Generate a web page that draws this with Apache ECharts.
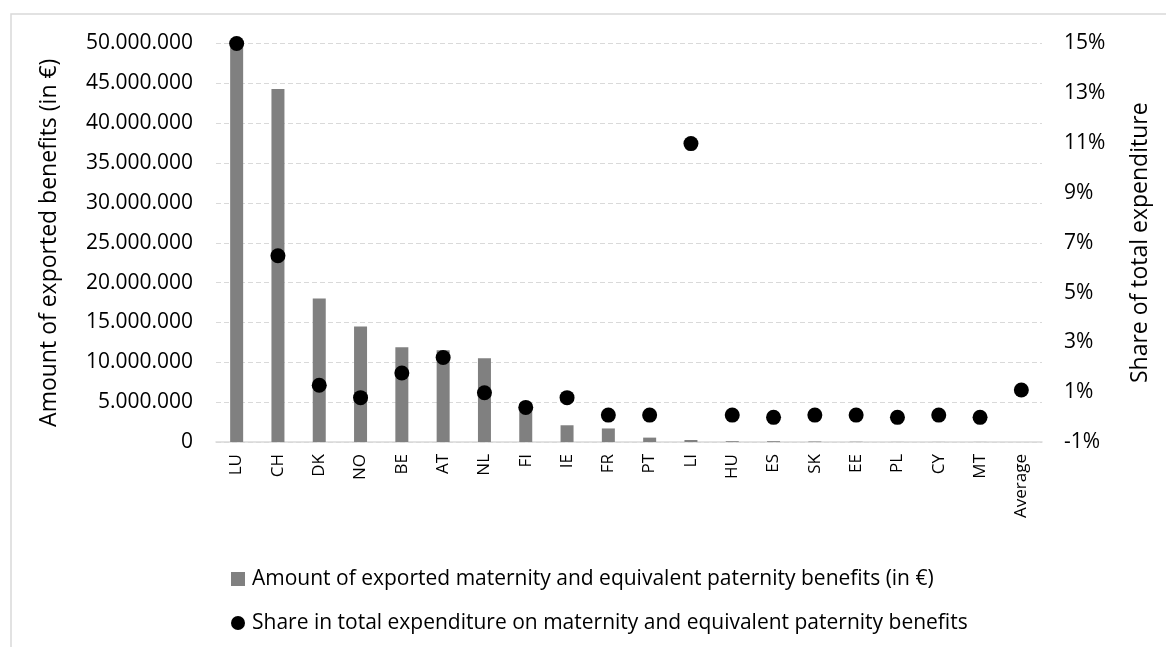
<!DOCTYPE html>
<html>
<head>
<meta charset="utf-8">
<script src="https://cdn.jsdelivr.net/npm/echarts@6/dist/echarts.min.js"></script>
<style>
html,body{margin:0;padding:0;background:#fff;}
#main{width:1166px;height:647px;}
</style>
</head>
<body>
<div id="main"></div>
<script>
const categories = ['LU','CH','DK','NO','BE','AT','NL','FI','IE','FR','PT','LI','HU','ES','SK','EE','PL','CY','MT','Average'];
const amountExported = [50000000,44300000,18000000,14500000,11900000,11500000,10500000,4400000,2100000,1700000,550000,250000,100000,100000,60000,30000,10000,10000,10000,null];
const shareTotal = [15.0,6.48,1.28,0.78,1.77,2.39,0.98,0.39,0.78,0.08,0.08,10.98,0.08,-0.01,0.08,0.08,-0.01,0.08,-0.01,1.09];
const leftTicks = {min:0, max:50000000, interval:5000000};
const rightTicks = {min:-1, max:15, interval:2};
const seriesNames = ['Amount of exported maternity and equivalent paternity benefits (in €)','Share in total expenditure on maternity and equivalent paternity benefits'];

const FONT = 'Open Sans';
const chart = echarts.init(document.getElementById('main'));
function dotFmt(v){return String(v).replace(/\B(?=(\d{3})+(?!\d))/g,'.');}
chart.setOption({
  animation:false,
  backgroundColor:'#fff',
  textStyle:{fontFamily:FONT,color:'#000'},
  graphic:[{type:'rect',shape:{x:11,y:14,width:1200,height:700},style:{fill:'none',stroke:'#d9d9d9',lineWidth:1.5},silent:true}],
  grid:{left:216,right:124,top:43.5,bottom:205,containLabel:false},
  legend:{
    orient:'vertical',left:231,top:568,padding:0,itemGap:22,itemWidth:14,itemHeight:14,
    textStyle:{fontFamily:FONT,fontSize:21,lineHeight:22,color:'#000',padding:[0,0,0,2]},
    data:[{name:seriesNames[0],icon:'rect',itemStyle:{color:'#808080'}},{name:seriesNames[1],icon:'circle',itemStyle:{color:'#000',opacity:1}}]
  },
  xAxis:{
    type:'category',data:categories,
    axisLine:{lineStyle:{color:'#d9d9d9',width:1.5}},
    axisTick:{show:false},
    axisLabel:{rotate:90,fontFamily:FONT,fontSize:17,color:'#000',margin:12}
  },
  yAxis:[{
    type:'value',min:leftTicks.min,max:leftTicks.max,interval:leftTicks.interval,
    name:'Amount of exported benefits (in €)',nameLocation:'middle',nameGap:155,nameRotate:90,
    nameTextStyle:{fontFamily:FONT,fontSize:23,color:'#000'},
    axisLine:{show:false},axisTick:{show:false},
    axisLabel:{fontFamily:FONT,fontSize:21,color:'#000',margin:23,formatter:dotFmt},
    splitLine:{lineStyle:{color:'#d9d9d9',type:[5,3],width:1}}
  },{
    type:'value',min:rightTicks.min,max:rightTicks.max,interval:rightTicks.interval,position:'right',
    name:'Share of total expenditure',nameLocation:'middle',nameGap:87,nameRotate:90,
    nameTextStyle:{fontFamily:FONT,fontSize:23,color:'#000'},
    axisLine:{show:false},axisTick:{show:false},
    axisLabel:{fontFamily:FONT,fontSize:21,color:'#000',margin:22,formatter:'{value}%'},
    splitLine:{show:false}
  }],
  series:[{
    name:seriesNames[0],type:'bar',data:amountExported,yAxisIndex:0,barWidth:13,
    itemStyle:{color:'#808080'},z:2
  },{
    name:seriesNames[1],type:'scatter',data:shareTotal,yAxisIndex:1,symbol:'circle',symbolSize:15,
    itemStyle:{color:'#000',opacity:1},z:3
  }]
});
</script>
</body>
</html>
